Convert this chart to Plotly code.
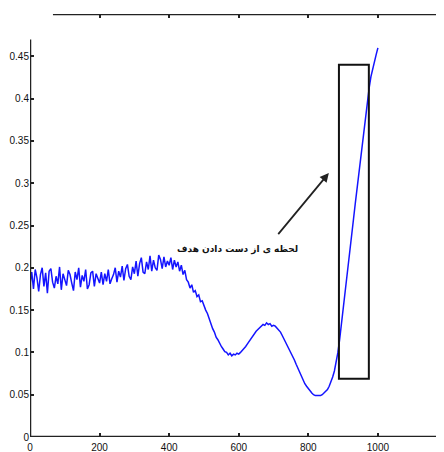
import plotly.graph_objects as go

x_start = 0
x_step = 5
variance = [
    # 0-100
    0.180, 0.195, 0.175, 0.198, 0.188, 0.172, 0.192, 0.200, 0.178, 0.194, 0.170,
    0.196, 0.199, 0.183, 0.176, 0.190, 0.181, 0.201, 0.174, 0.193, 0.186,
    # 105-200
    0.179, 0.197, 0.192, 0.182, 0.173, 0.195, 0.186, 0.200, 0.177, 0.191,
    0.184, 0.198, 0.175, 0.180, 0.194, 0.196, 0.178, 0.193, 0.188, 0.182,
    # 205-300
    0.195, 0.180, 0.193, 0.184, 0.198, 0.181, 0.187, 0.192, 0.200, 0.183,
    0.196, 0.189, 0.202, 0.185, 0.199, 0.204, 0.190, 0.186, 0.201, 0.193,
    # 305-400
    0.208, 0.190, 0.205, 0.212, 0.195, 0.193, 0.207, 0.198, 0.214, 0.196,
    0.209, 0.200, 0.197, 0.215, 0.210, 0.199, 0.213, 0.201, 0.208, 0.203,
    # 405-450
    0.212, 0.198, 0.209, 0.201, 0.207, 0.196, 0.203, 0.192, 0.197, 0.186,
    # 455-500
    0.183, 0.176, 0.180, 0.171, 0.173, 0.166, 0.168, 0.160, 0.161, 0.155,
    # 505-550
    0.150, 0.146, 0.139, 0.135, 0.128, 0.124, 0.118, 0.115, 0.110, 0.107,
    # 555-600
    0.104, 0.101, 0.100, 0.097, 0.099, 0.096, 0.098, 0.097, 0.099, 0.098,
    # 605-650
    0.100, 0.102, 0.104, 0.107, 0.110, 0.113, 0.117, 0.120, 0.122, 0.125,
    # 655-700
    0.127, 0.129, 0.131, 0.133, 0.132, 0.135, 0.133, 0.134, 0.131, 0.132,
    # 705-750
    0.131, 0.129, 0.127, 0.124, 0.120, 0.116, 0.112, 0.108, 0.104, 0.100,
    # 755-800
    0.096, 0.091, 0.086, 0.081, 0.076, 0.071, 0.067, 0.063, 0.060, 0.057,
    # 805-850
    0.055, 0.052, 0.050, 0.049, 0.049, 0.049, 0.049, 0.050, 0.052, 0.054,
    # 855-900
    0.056, 0.060, 0.065, 0.071, 0.078, 0.088, 0.100, 0.115, 0.132, 0.150,
    # 905-950
    0.168, 0.186, 0.204, 0.222, 0.240, 0.258, 0.276, 0.294, 0.312, 0.330,
    # 955-1000
    0.348, 0.365, 0.382, 0.398, 0.413, 0.426, 0.436, 0.444, 0.452, 0.460,
]
frames = [x_start + i * x_step for i in range(len(variance))]

x_ticks = [0, 200, 400, 600, 800, 1000]
y_ticks = [0, 0.05, 0.1, 0.15, 0.2, 0.25, 0.3, 0.35, 0.4, 0.45]
y_tick_text = ["0", "0.05", "0.1", "0.15", "0.2", "0.25", "0.3", "0.35", "0.4", "0.45"]

box = {"x0": 888, "x1": 974, "y0": 0.069, "y1": 0.44}
label_text = "لحظه ی از دست دادن هدف"
y_title = "تباین"

X_MAX = 1213
font_ticks = dict(family="Liberation Sans Narrow, Liberation Sans, Arial", size=10, color="#111")

fig = go.Figure()
fig.add_trace(go.Scatter(x=frames, y=variance, mode="lines",
                         line=dict(color="#1414ff", width=1.5), showlegend=False))
# invisible trace to enable top axis ticks
fig.add_trace(go.Scatter(x=[0], y=[0], xaxis="x2", mode="markers",
                         marker=dict(opacity=0), showlegend=False, hoverinfo="skip"))

fig.update_layout(
    width=444, height=452,
    margin=dict(l=22, r=0, t=6, b=23, autoexpand=False),
    paper_bgcolor="white", plot_bgcolor="white",
    xaxis=dict(range=[0, X_MAX], tickvals=x_ticks, ticks="inside", ticklen=4,
               tickwidth=2, tickcolor="#222", showgrid=False, zeroline=False,
               showline=False, tickfont=font_ticks, automargin=False,
               ticklabelstandoff=3),
    xaxis2=dict(range=[0, X_MAX], overlaying="x", side="top",
                tickvals=x_ticks[1:], ticks="inside", ticklen=4, tickwidth=2,
                tickcolor="#222", showticklabels=False, showgrid=False,
                zeroline=False, showline=False, automargin=False),
    yaxis=dict(range=[0, 0.5], tickvals=y_ticks, ticktext=y_tick_text,
               ticks="inside", ticklen=4, tickwidth=2, tickcolor="#222",
               showgrid=False, zeroline=False, showline=False,
               tickfont=font_ticks, automargin=False, ticklabelstandoff=0),
    shapes=[
        dict(type="line", xref="x", yref="y", x0=0, x1=1175, y0=0, y1=0,
             line=dict(color="#222", width=2.5)),
        dict(type="line", xref="x", yref="y", x0=0, x1=0, y0=0, y1=0.47,
             line=dict(color="#222", width=2.5)),
        dict(type="line", xref="x", yref="y", x0=66, x1=X_MAX, y0=0.5, y1=0.5,
             line=dict(color="#222", width=2.5)),
        dict(type="rect", xref="x", yref="y", x0=box["x0"], x1=box["x1"],
             y0=box["y0"], y1=box["y1"], line=dict(color="#111", width=2)),
    ],
    annotations=[
        dict(x=859, y=0.312, ax=710, ay=0.238, xref="x", yref="y",
             axref="x", ayref="y", text="", showarrow=True, arrowhead=2,
             arrowsize=1, arrowwidth=1.8, arrowcolor="#222"),
        dict(x=595, y=0.222, xref="x", yref="y", text="<b>" + label_text + "</b>",
             showarrow=False, font=dict(family="DejaVu Sans, Noto Sans", size=9, color="#111")),
        dict(x=-14, y=0.492, xref="x", yref="y", text="<b>" + y_title + "</b>",
             showarrow=False, font=dict(family="DejaVu Sans, Noto Sans", size=11, color="#111")),
    ],
)

fig.write_html("out.html")
